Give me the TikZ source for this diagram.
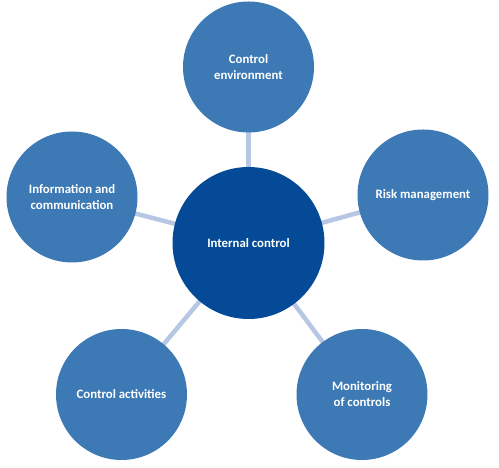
\documentclass[tikz,border=0pt]{standalone}
\usepackage{fontspec}
\setmainfont{Carlito}
\definecolor{outerblue}{HTML}{3D7AB5}
\definecolor{innerblue}{HTML}{044A96}
\definecolor{linkblue}{HTML}{B7C7E3}
\begin{document}
\begin{tikzpicture}[x=1pt,y=1pt,
  outer/.style={circle,fill=outerblue,minimum size=131pt,inner sep=0pt,text=white,font=\bfseries\fontsize{12.8}{16}\selectfont,align=center},
  inner/.style={circle,fill=innerblue,minimum size=152pt,inner sep=0pt,text=white,font=\bfseries\fontsize{12.8}{16}\selectfont,align=center},
  link/.style={draw=linkblue,line width=4.5pt}]
\useasboundingbox (0,0) rectangle (499,468);
\coordinate (cc) at (248.5,225);
\coordinate (ct) at (248.5,401);
\coordinate (cr) at (423,273);
\coordinate (cl) at (72,271);
\coordinate (cbl) at (121.5,73.5);
\coordinate (cbr) at (362,73.5);
\draw[link] (cc) -- (ct);
\draw[link] (cc) -- (cr);
\draw[link] (cc) -- (cl);
\draw[link] (cc) -- (cbl);
\draw[link] (cc) -- (cbr);
\node[inner] (center) at (cc) {Internal control};
\node[outer] (top) at (ct) {Control\\environment};
\node[outer] (right) at (cr) {Risk management};
\node[outer] (left) at (cl) {Information and\\communication};
\node[outer] (bl) at (cbl) {Control activities};
\node[outer] (br) at (cbr) {Monitoring\\of controls};
\end{tikzpicture}
\end{document}
